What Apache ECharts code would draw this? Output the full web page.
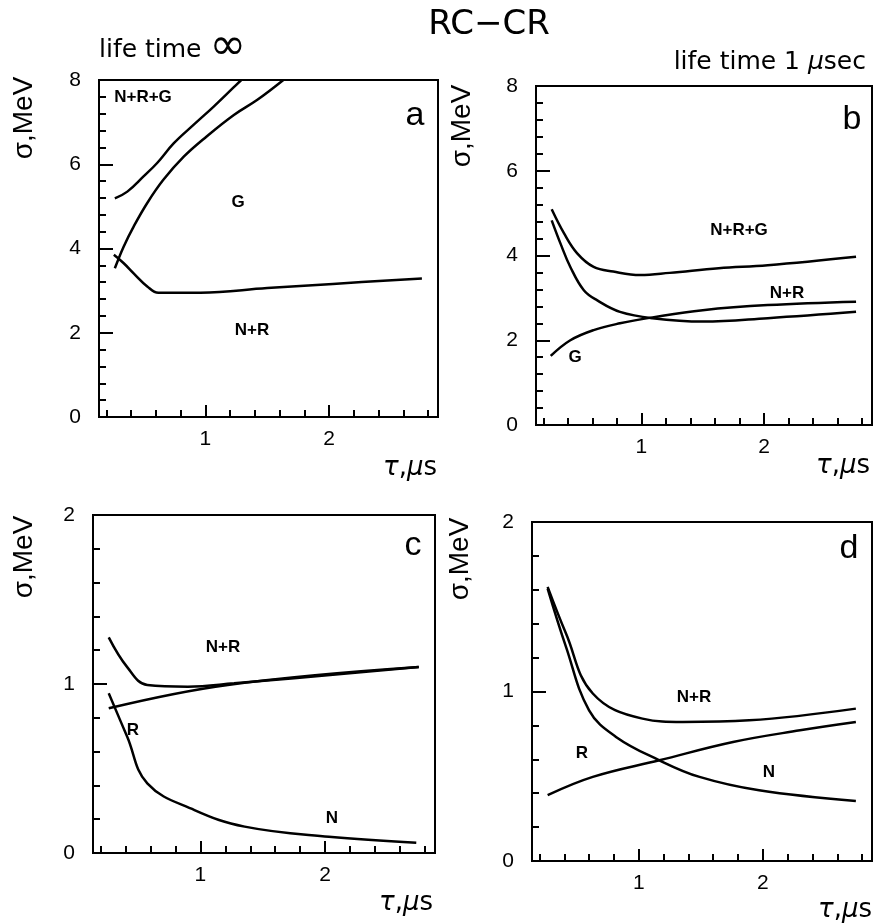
<!DOCTYPE html>
<html>
<head>
<meta charset="utf-8">
<script src="https://cdn.jsdelivr.net/npm/echarts@6/dist/echarts.min.js"></script>
<style>html,body{margin:0;padding:0;background:#fff}#c{width:877px;height:923px}</style>
</head>
<body>
<div id="c"></div>
<script>
// ---------- data ----------
const xMajorTicks = [1, 2];
const xMinorTicks = [0.2,0.4,0.6,0.8,1.0,1.2,1.4,1.6,1.8,2.0,2.2,2.4,2.6,2.8];
const yTicksTop = [0, 2, 4, 6, 8];
const yTicksBottom = [0, 1, 2];

// panel a : life time infinite, sigma (MeV) vs tau (us)
const tauA_NRG = [0.268,0.369,0.50,0.61,0.745,0.906,1.067,1.23,1.29];
const sigA_NRG = [5.19,5.35,5.71,6.03,6.50,6.94,7.37,7.83,8.00];
const tauA_G   = [0.268,0.34,0.42,0.53,0.66,0.825,1.01,1.23,1.42,1.63];
const sigA_G   = [3.53,4.05,4.52,5.08,5.63,6.18,6.66,7.17,7.53,8.00];
const tauA_NR  = [0.26,0.34,0.42,0.53,0.62,0.96,1.50,2.03,2.75];
const sigA_NR  = [3.85,3.65,3.41,3.10,2.95,2.95,3.06,3.16,3.29];

// panel b : life time 1 usec
const tauB_NRG = [0.268,0.369,0.476,0.61,0.77,0.99,1.23,1.63,2.03,2.75];
const sigB_NRG = [5.09,4.52,4.05,3.73,3.62,3.54,3.59,3.70,3.77,3.97];
const tauB_NR  = [0.268,0.34,0.42,0.53,0.64,0.825,1.09,1.50,2.03,2.75];
const sigB_NR  = [4.83,4.28,3.73,3.18,2.94,2.67,2.52,2.44,2.52,2.67];
const tauB_G   = [0.26,0.42,0.61,0.825,1.09,1.50,2.03,2.75];
const sigB_G   = [1.63,2.00,2.24,2.40,2.54,2.71,2.83,2.91];

// panel c
const tauC_NR = [0.266,0.414,0.575,0.90,1.27,2.75];
const sigC_NR = [1.276,1.10,0.994,0.984,1.004,1.10];
const tauC_R  = [0.266,1.22,2.75];
const sigC_R  = [0.856,0.994,1.10];
const tauC_N  = [0.266,0.414,0.575,0.953,1.355,2.03,2.73];
const sigC_N  = [0.945,0.688,0.412,0.254,0.156,0.096,0.061];

// panel d
const tauD_NR = [0.266,0.414,0.63,1.03,1.355,1.89,2.75];
const sigD_NR = [1.617,1.342,0.988,0.84,0.82,0.83,0.899];
const tauD_N  = [0.266,0.414,0.60,0.817,1.167,1.49,1.97,2.75];
const sigD_N  = [1.607,1.263,0.889,0.732,0.594,0.496,0.417,0.354];
const tauD_R  = [0.266,0.63,1.167,1.76,2.30,2.75];
const sigD_R  = [0.388,0.496,0.594,0.702,0.771,0.82];

// ---------- build ----------
const FONT = 'Liberation Sans, Arial, sans-serif';
const DJ = 'DejaVu Sans, sans-serif';
const BLACK = '#000';
const X_MIN = 0.14, X_MAX = 2.88;

const grids = [
  {left: 99,  top: 80,  width: 339, height: 337},
  {left: 536, top: 86,  width: 336, height: 339},
  {left: 93,  top: 515, width: 342, height: 338},
  {left: 532, top: 522, width: 340, height: 339}
];

const xAxis = [], yAxis = [];
grids.forEach((g, i) => {
  xAxis.push({
    gridIndex: i, type: 'value', min: X_MIN, max: X_MAX, position: 'bottom',
    axisLine: {show: true, onZero: false, lineStyle: {color: BLACK, width: 2}},
    axisTick: {show: true, inside: true, length: 12, customValues: xMajorTicks, lineStyle: {color: BLACK, width: 2}},
    axisLabel: {show: true, customValues: xMajorTicks, margin: 12, fontSize: 21, color: BLACK, fontFamily: FONT},
    splitLine: {show: false}
  });
  xAxis.push({
    gridIndex: i, type: 'value', min: X_MIN, max: X_MAX, position: 'bottom',
    axisLine: {show: false, onZero: false},
    axisTick: {show: true, inside: true, length: 7, customValues: xMinorTicks, lineStyle: {color: BLACK, width: 2}},
    axisLabel: {show: false},
    splitLine: {show: false}
  });
  const top = i < 2;
  yAxis.push({
    gridIndex: i, type: 'value', min: 0, max: top ? 8 : 2, interval: top ? 2 : 1,
    axisLine: {show: true, onZero: false, lineStyle: {color: BLACK, width: 2}},
    axisTick: {show: true, inside: true, length: 14, lineStyle: {color: BLACK, width: 2}},
    minorTick: {show: true, splitNumber: 5, length: 7, lineStyle: {color: BLACK, width: 2}},
    axisLabel: {show: true, margin: 18, fontSize: 21, color: BLACK, fontFamily: FONT,
      customValues: top ? yTicksTop : yTicksBottom},
    splitLine: {show: false}, minorSplitLine: {show: false}
  });
});

function zip(xs, ys) { return xs.map((x, k) => [x, ys[k]]); }
function curve(gi, xs, ys) {
  return {
    type: 'line', xAxisIndex: gi * 2, yAxisIndex: gi, data: zip(xs, ys),
    smooth: 0.4, showSymbol: false, symbol: 'none', clip: true,
    lineStyle: {color: BLACK, width: 2.5}, silent: true, animation: false
  };
}

const series = [
  curve(0, tauA_NRG, sigA_NRG), curve(0, tauA_G, sigA_G), curve(0, tauA_NR, sigA_NR),
  curve(1, tauB_NRG, sigB_NRG), curve(1, tauB_NR, sigB_NR), curve(1, tauB_G, sigB_G),
  curve(2, tauC_NR, sigC_NR), curve(2, tauC_R, sigC_R), curve(2, tauC_N, sigC_N),
  curve(3, tauD_NR, sigD_NR), curve(3, tauD_N, sigD_N), curve(3, tauD_R, sigD_R)
];

function txt(x, y, text, size, opts) {
  return {type: 'text', x: x, y: y, rotation: (opts && opts.rotation) || 0, z: 10,
    style: Object.assign({text: text, fontSize: size, fontFamily: FONT, fill: BLACK,
      align: 'center', verticalAlign: 'middle'}, (opts && opts.style) || {})};
}
const greek = {g: {fontStyle: 'italic', fontSize: 26, fontFamily: DJ}, n: {fontSize: 26, fontFamily: DJ}};
const yName = '\u03c3,MeV';
const xName = '{g|\u03c4}{n|,}{g|\u03bc}{n|s}';
const lbl = {style: {fontWeight: 'bold', fontFamily: FONT}};

const graphic = [
  txt(489, 25, 'RC\u2212CR', 34, {style: {fontFamily: DJ}}),
  txt(99, 50, 'life time {inf|\u221e}', 25, {style: {align: 'left', fontFamily: DJ,
      rich: {inf: {fontSize: 44, fontFamily: DJ, padding: [0,0,4,0]}}}}),
  txt(866, 62, 'life time 1 {g|\u03bc}sec', 25, {style: {align: 'right', fontFamily: DJ,
      rich: {g: {fontStyle: 'italic', fontSize: 25, fontFamily: DJ}}}}),
  // y names
  txt(24, 118, yName, 28, {rotation: Math.PI / 2}),
  txt(462, 126, yName, 28, {rotation: Math.PI / 2}),
  txt(24, 557, yName, 28, {rotation: Math.PI / 2}),
  txt(460, 559, yName, 28, {rotation: Math.PI / 2}),
  // x names
  txt(437, 468, xName, 26, {style: {align: 'right', rich: greek}}),
  txt(870, 466, xName, 26, {style: {align: 'right', rich: greek}}),
  txt(433, 903, xName, 26, {style: {align: 'right', rich: greek}}),
  txt(872, 910, xName, 26, {style: {align: 'right', rich: greek}}),
  // panel letters
  txt(415, 116, 'a', 34), txt(852, 120, 'b', 34), txt(413, 546, 'c', 34), txt(849, 549, 'd', 34),
  // curve labels
  txt(143, 97, 'N+R+G', 17, lbl),
  txt(238, 202, 'G', 17, lbl),
  txt(252, 330, 'N+R', 17, lbl),
  txt(739, 230, 'N+R+G', 17, lbl),
  txt(787, 293, 'N+R', 17, lbl),
  txt(575, 357, 'G', 17, lbl),
  txt(223, 647, 'N+R', 17, lbl),
  txt(133, 730, 'R', 17, lbl),
  txt(332, 818, 'N', 17, lbl),
  txt(694, 697, 'N+R', 17, lbl),
  txt(582, 753, 'R', 17, lbl),
  txt(769, 772, 'N', 17, lbl)
];

const chart = echarts.init(document.getElementById('c'), null, {renderer: 'canvas'});
chart.setOption({
  animation: false,
  backgroundColor: '#fff',
  grid: grids.map(g => Object.assign({show: true, borderColor: BLACK, borderWidth: 2, backgroundColor: 'transparent', containLabel: false}, g)),
  xAxis: xAxis,
  yAxis: yAxis,
  series: series,
  graphic: graphic
});
</script>
</body>
</html>
